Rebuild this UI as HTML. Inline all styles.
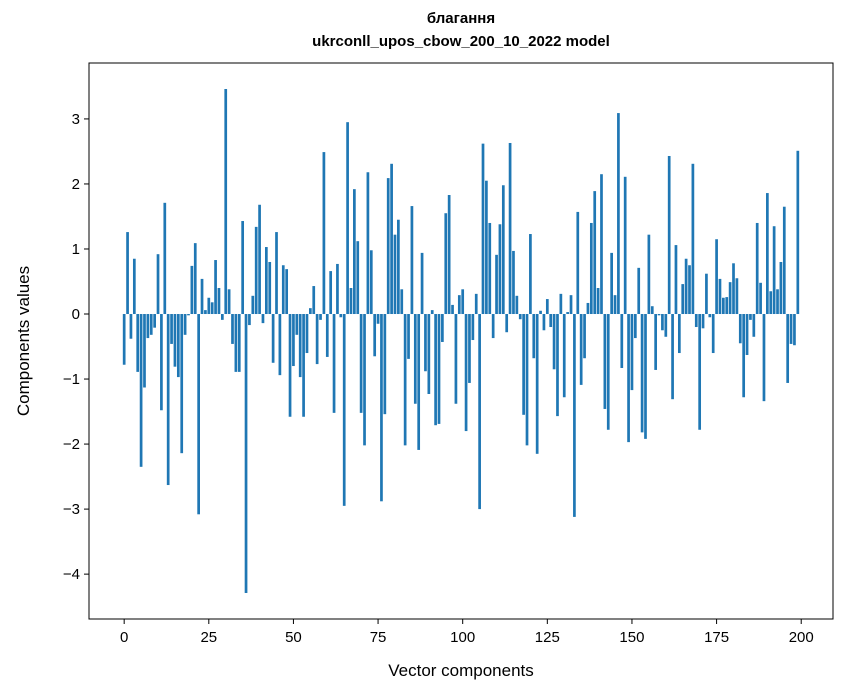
<!DOCTYPE html>
<html><head><meta charset="utf-8"><style>
html,body{margin:0;padding:0;background:#fff;}
svg{display:block;font-family:"Liberation Sans","DejaVu Sans",sans-serif;}
</style></head><body>
<svg id="chart" width="847" height="696" viewBox="0 0 847 696" xmlns="http://www.w3.org/2000/svg">
<rect width="847" height="696" fill="#fff"/>
<text x="461" y="23" text-anchor="middle" font-size="15" font-weight="bold">благання</text>
<text x="461" y="46" text-anchor="middle" font-size="15" font-weight="bold">ukrconll_upos_cbow_200_10_2022 model</text>
<g id="bars"></g>
<g id="xticks"></g>
<g id="yticks"></g>
<rect x="89" y="63" width="744" height="556" fill="none" stroke="#000" stroke-width="1"/>
<text x="461" y="676" text-anchor="middle" font-size="17">Vector components</text>
<text transform="translate(29,341) rotate(-90)" text-anchor="middle" font-size="17">Components values</text>
</svg>
<script>
const values = [-0.78,1.26,-0.38,0.85,-0.89,-2.35,-1.13,-0.37,-0.32,-0.21,0.92,-1.48,1.71,-2.63,-0.46,-0.81,-0.97,-2.14,-0.32,-0.02,
0.74,1.09,-3.08,0.54,0.06,0.25,0.18,0.83,0.40,-0.09,3.46,0.38,-0.46,-0.89,-0.89,1.43,-4.29,-0.17,0.28,1.34,
1.68,-0.14,1.03,0.80,-0.75,1.26,-0.94,0.75,0.69,-1.58,-0.80,-0.32,-0.97,-1.58,-0.60,0.09,0.43,-0.77,-0.09,2.49,
-0.66,0.66,-1.52,0.77,-0.05,-2.95,2.95,0.40,1.92,1.12,-1.52,-2.02,2.18,0.98,-0.65,-0.15,-2.88,-1.54,2.09,2.31,
1.22,1.45,0.38,-2.02,-0.69,1.66,-1.38,-2.09,0.94,-0.88,-1.23,0.06,-1.71,-1.69,-0.43,1.55,1.83,0.14,-1.38,0.29,
0.38,-1.80,-1.06,-0.40,0.31,-3.00,2.62,2.05,1.40,-0.37,0.91,1.38,1.98,-0.28,2.63,0.97,0.28,-0.08,-1.55,-2.02,
1.23,-0.68,-2.15,0.05,-0.25,0.23,-0.20,-0.85,-1.57,0.31,-1.28,0.03,0.29,-3.12,1.57,-1.09,-0.68,0.17,1.40,1.89,
0.40,2.15,-1.46,-1.78,0.94,0.29,3.09,-0.83,2.11,-1.97,-1.17,-0.37,0.71,-1.82,-1.92,1.22,0.12,-0.86,-0.02,-0.25,
-0.35,2.43,-1.31,1.06,-0.60,0.46,0.85,0.75,2.31,-0.20,-1.78,-0.22,0.62,-0.05,-0.60,1.15,0.54,0.25,0.26,0.49,
0.78,0.55,-0.45,-1.28,-0.63,-0.09,-0.35,1.40,0.48,-1.34,1.86,0.35,1.35,0.38,0.80,1.65,-1.06,-0.46,-0.48,2.51];
const xTickLabels = ["0","25","50","75","100","125","150","175","200"];
const yTickLabels = ["−4","−3","−2","−1","0","1","2","3"];
const xTickValues = [0,25,50,75,100,125,150,175,200];
const yTickValues = [-4,-3,-2,-1,0,1,2,3];

const NS="http://www.w3.org/2000/svg";
const L=89,R=833,T=63,B=619;
const xmin=-10.39,xmax=209.39;
const ymin=-4.69,ymax=3.86;
function xs(v){return L+(v-xmin)/(xmax-xmin)*(R-L);}
function ys(v){return B-(v-ymin)/(ymax-ymin)*(B-T);}
const bw=(xs(0.8)-xs(0));
const gb=document.getElementById('bars');
values.forEach((v,i)=>{
  const r=document.createElementNS(NS,'rect');
  const y0=ys(0),y1=ys(v);
  r.setAttribute('x',xs(i)-bw/2);
  r.setAttribute('y',Math.min(y0,y1));
  r.setAttribute('width',bw);
  r.setAttribute('height',Math.abs(y1-y0));
  r.setAttribute('fill','#1f77b4');
  
  
  gb.appendChild(r);
});
const gx=document.getElementById('xticks');
xTickValues.forEach((v,i)=>{
  const x=xs(v);
  const l=document.createElementNS(NS,'line');
  l.setAttribute('x1',x);l.setAttribute('x2',x);l.setAttribute('y1',B);l.setAttribute('y2',B+5);
  l.setAttribute('stroke','#000');
  
  
  gx.appendChild(l);
  const t=document.createElementNS(NS,'text');
  t.setAttribute('x',x);t.setAttribute('y',B+23);t.setAttribute('text-anchor','middle');t.setAttribute('font-size','15');
  t.textContent=xTickLabels[i];
  
  
  gx.appendChild(t);
});
const gy=document.getElementById('yticks');
yTickValues.forEach((v,i)=>{
  const y=ys(v);
  const l=document.createElementNS(NS,'line');
  l.setAttribute('x1',L-5);l.setAttribute('x2',L);l.setAttribute('y1',y);l.setAttribute('y2',y);
  l.setAttribute('stroke','#000');
  
  
  gy.appendChild(l);
  const t=document.createElementNS(NS,'text');
  t.setAttribute('x',L-9);t.setAttribute('y',y+5);t.setAttribute('text-anchor','end');t.setAttribute('font-size','15');
  t.textContent=yTickLabels[i];
  
  
  gy.appendChild(t);
});
</script>
</body></html>
